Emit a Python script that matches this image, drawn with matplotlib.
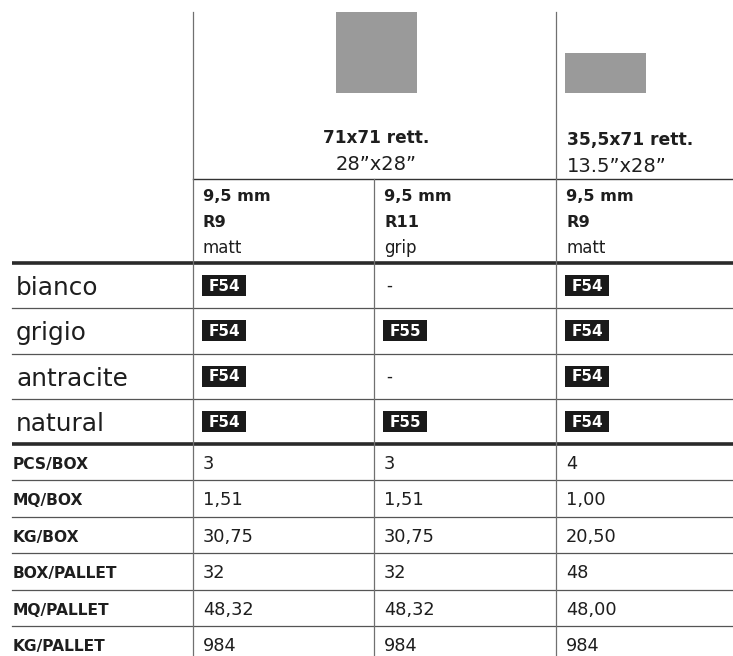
import matplotlib
matplotlib.use("Agg")
import matplotlib.pyplot as plt
from matplotlib.patches import Rectangle

# --- table content ---
formats = ["71x71 rett.", "35,5x71 rett."]
formats_inch = ["28\u201dx28\u201d", "13.5\u201dx28\u201d"]
tile_sizes = [(71, 71), (35.5, 71)]          # cm
thickness = ["9,5 mm", "9,5 mm", "9,5 mm"]
slip = ["R9", "R11", "R9"]
finish = ["matt", "grip", "matt"]
colours = ["bianco", "grigio", "antracite", "natural"]
codes = [
    ["F54", "-", "F54"],
    ["F54", "F55", "F54"],
    ["F54", "-", "F54"],
    ["F54", "F55", "F54"],
]
pack_labels = ["PCS/BOX", "MQ/BOX", "KG/BOX", "BOX/PALLET", "MQ/PALLET", "KG/PALLET"]
pack_values = [
    ["3", "3", "4"],
    ["1,51", "1,51", "1,00"],
    ["30,75", "30,75", "20,50"],
    ["32", "32", "48"],
    ["48,32", "48,32", "48,00"],
    ["984", "984", "984"],
]

# --- layout (pixels) ---
W, H = 733, 656
col_x = [193, 374, 556]
left = 12
head_line = 179
colour_top = 263
colour_h = 45.3
pack_top = 444
pack_h = 36.4
ink = "#1e1e1e"
tile_grey = "#9a9a9a"

plt.rcParams["font.family"] = ["DejaVu Sans"]
fig = plt.figure(figsize=(W / 100, H / 100), dpi=100)
ax = fig.add_axes([0, 0, 1, 1])
ax.set_xlim(0, W)
ax.set_ylim(H, 0)
ax.set_axis_off()

# tile pictograms, scaled from the tile size in cm
px_per_cm = 81 / 71
box_bottom = 93
w0, h0 = tile_sizes[0][0] * px_per_cm, tile_sizes[0][1] * px_per_cm
ax.add_patch(Rectangle((376 - w0 / 2, box_bottom - h0), w0, h0, color=tile_grey, lw=0))
w1, h1 = tile_sizes[1][1] * px_per_cm, tile_sizes[1][0] * px_per_cm
ax.add_patch(Rectangle((col_x[2] + 9, box_bottom - h1), w1, h1, color=tile_grey, lw=0))

# format headings
ax.text(376, 143, formats[0], ha="center", va="baseline", fontsize=12.2,
        fontweight="bold", color=ink)
ax.text(376, 170, formats_inch[0], ha="center", va="baseline", fontsize=14, color=ink)
ax.text(col_x[2] + 11, 145, formats[1], ha="left", va="baseline", fontsize=12.3,
        fontweight="bold", color=ink)
ax.text(col_x[2] + 11, 172, formats_inch[1], ha="left", va="baseline", fontsize=14,
        color=ink)

# sub-headings
for j, x in enumerate(col_x):
    tx = x + 10
    ax.text(tx, 201, thickness[j], va="baseline", fontsize=11.6, fontweight="bold", color=ink)
    ax.text(tx, 227, slip[j], va="baseline", fontsize=11.6, fontweight="bold", color=ink)
    ax.text(tx, 253, finish[j], va="baseline", fontsize=12, color=ink)

# colour rows
for i, name in enumerate(colours):
    top = colour_top + i * colour_h
    ax.text(16, top + 32, name, va="baseline", fontsize=17.8, color=ink)
    for j, code in enumerate(codes[i]):
        x = col_x[j] + 9
        yc = top + colour_h / 2
        if code == "-":
            ax.text(x + 3, yc, code, va="center", fontsize=12, color=ink)
        else:
            ax.add_patch(Rectangle((x, yc - 10.5), 44, 21, color="#1a1a1a", lw=0))
            ax.text(x + 22, yc + 0.5, code, ha="center", va="center", fontsize=11,
                    fontweight="bold", color="white")
    if i > 0:
        ax.plot([left, W], [top, top], color="#555555", lw=0.9)

# packaging rows
for i, lab in enumerate(pack_labels):
    top = pack_top + i * pack_h
    ax.text(13, top + 25, lab, va="baseline", fontsize=11.2, fontweight="bold", color=ink)
    for j, v in enumerate(pack_values[i]):
        ax.text(col_x[j] + 10, top + 25, v, va="baseline", fontsize=12.8, color=ink)
    if i > 0:
        ax.plot([left, W], [top, top], color="#555555", lw=0.9)

# rules
ax.plot([col_x[0], W], [head_line, head_line], color="#333333", lw=1.0)
ax.plot([left, W], [colour_top, colour_top], color="#2a2a2a", lw=2.6, solid_capstyle="butt")
ax.plot([left, W], [pack_top, pack_top], color="#2a2a2a", lw=2.6, solid_capstyle="butt")
ax.plot([col_x[0], col_x[0]], [12, H], color="#707070", lw=0.9)
ax.plot([col_x[1], col_x[1]], [head_line, H], color="#707070", lw=0.9)
ax.plot([col_x[2], col_x[2]], [12, H], color="#707070", lw=0.9)

fig.savefig("out.png", dpi=100)
